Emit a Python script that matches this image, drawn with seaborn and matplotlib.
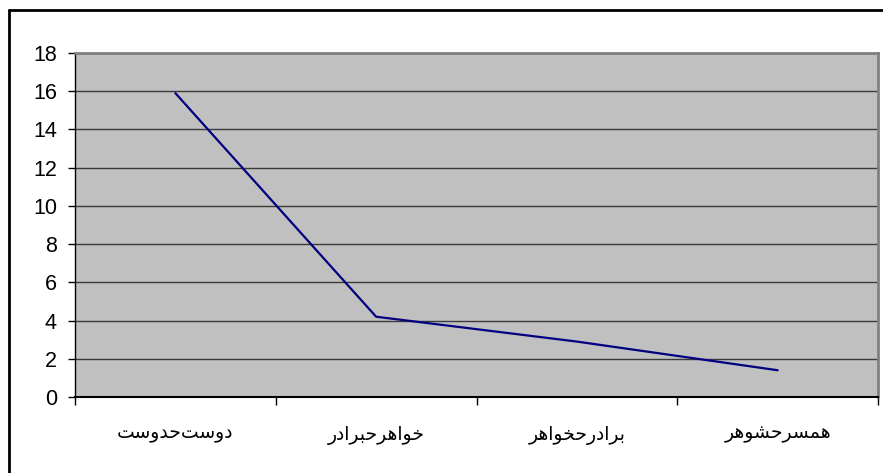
import numpy as np
import pandas as pd
import matplotlib
matplotlib.use('Agg')
import matplotlib.pyplot as plt
from matplotlib.lines import Line2D
from matplotlib.ticker import FixedLocator
import seaborn as sns

# data
categories = ['دوست\u200cحدوست', 'خواهرحبرادر', 'برادرحخواهر', 'همسرحشوهر']
values = [15.9, 4.2, 2.9, 1.4]
y_ticks = list(range(0, 19, 2))

# matplotlib has no arabic shaping, so pick presentation forms by hand
FORMS = {
    'ا': ('\uFE8D', '\uFE8E', None, None),
    'ب': ('\uFE8F', '\uFE90', '\uFE91', '\uFE92'),
    'ت': ('\uFE95', '\uFE96', '\uFE97', '\uFE98'),
    'ح': ('\uFEA1', '\uFEA2', '\uFEA3', '\uFEA4'),
    'خ': ('\uFEA5', '\uFEA6', '\uFEA7', '\uFEA8'),
    'د': ('\uFEA9', '\uFEAA', None, None),
    'ر': ('\uFEAD', '\uFEAE', None, None),
    'س': ('\uFEB1', '\uFEB2', '\uFEB3', '\uFEB4'),
    'ش': ('\uFEB5', '\uFEB6', '\uFEB7', '\uFEB8'),
    'م': ('\uFEE1', '\uFEE2', '\uFEE3', '\uFEE4'),
    'ه': ('\uFEE9', '\uFEEA', '\uFEEB', '\uFEEC'),
    'و': ('\uFEED', '\uFEEE', None, None),
}


def shape(word):
    out = []
    for i, ch in enumerate(word):
        if ch not in FORMS:
            if ch != '\u200c':
                out.append(ch)
            continue
        prev = word[i - 1] if i > 0 else ''
        nxt = word[i + 1] if i + 1 < len(word) else ''
        join_prev = prev in FORMS and FORMS[prev][2] is not None
        join_next = FORMS[ch][2] is not None and nxt in FORMS
        iso, fin, ini, med = FORMS[ch]
        if join_prev and join_next:
            out.append(med)
        elif join_prev:
            out.append(fin)
        elif join_next:
            out.append(ini)
        else:
            out.append(iso)
    return ''.join(reversed(out))


sns.set_theme(style='white')
plt.rcParams['font.family'] = ['Liberation Sans', 'DejaVu Sans']

df = pd.DataFrame({'cat': [shape(c) for c in categories], 'val': values})

fig = plt.figure(figsize=(8.83, 4.73), dpi=100)
fig.patch.set_facecolor('white')
ax = fig.add_axes([75 / 883, 1 - 397 / 473, 803 / 883, 344 / 473])
ax.set_facecolor('#C0C0C0')

sns.lineplot(data=df, x='cat', y='val', sort=False, color='#000080', lw=1.6, ax=ax)

ax.set_xlim(-0.5, len(categories) - 0.5)
ax.set_ylim(0, 18)
ax.set_yticks(y_ticks)
ax.set_xlabel('')
ax.set_ylabel('')

ax.yaxis.grid(True, color='#3a3a3a', lw=1)
ax.xaxis.grid(False)
ax.set_axisbelow(True)

ax.tick_params(axis='y', length=5, width=1, color='black', pad=8,
               labelsize=15.5, labelcolor='black', left=True)
ax.tick_params(axis='x', which='major', length=0, pad=21, labelsize=13.5,
               labelcolor='black')
ax.xaxis.set_minor_locator(FixedLocator(np.arange(-0.5, len(categories), 1.0)))
ax.tick_params(axis='x', which='minor', length=6, width=1, color='black',
               bottom=True)

for s in ['left', 'bottom']:
    ax.spines[s].set_color('black')
ax.spines['left'].set_linewidth(1)
ax.spines['bottom'].set_linewidth(1.5)
for s in ['top', 'right']:
    ax.spines[s].set_color('#808080')
    ax.spines[s].set_linewidth(2)

# outer chart border: only top and left edges fall inside the picture
bx, by = 9 / 883, 1 - 10 / 473
fig.add_artist(Line2D([bx, 1], [by, by], transform=fig.transFigure,
                      color='black', lw=2))
fig.add_artist(Line2D([bx, bx], [0, by], transform=fig.transFigure,
                      color='black', lw=2))

fig.savefig('out.png', dpi=100)
